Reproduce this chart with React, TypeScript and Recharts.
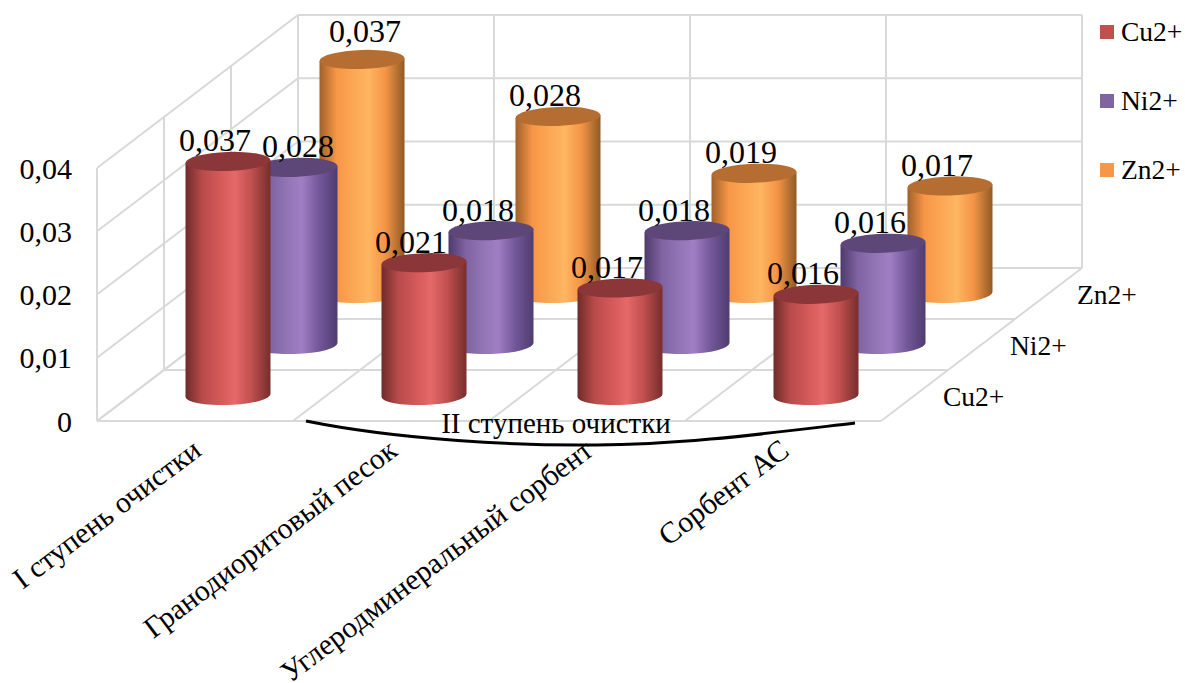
import React from "react";
import { BarChart, Bar, XAxis, YAxis, Legend, LabelList, Customized } from "recharts";

const categories = ["I ступень очистки", "Гранодиоритовый песок", "Углеродминеральный сорбент", "Сорбент АС"];
const cuValues = [0.037, 0.021, 0.017, 0.016];
const niValues = [0.028, 0.018, 0.018, 0.016];
const znValues = [0.037, 0.028, 0.019, 0.017];
const valueTicks = [0, 0.01, 0.02, 0.03, 0.04];
const seriesNames = ["Cu2+", "Ni2+", "Zn2+"];
const seriesKeys = ["cu", "ni", "zn"];
const seriesColors = ["#c0504d", "#8064a2", "#f79646"];
const topColors = ["#8b3638", "#5d4678", "#b66d31"];
const gradientStops = [
  ["#6f2b2a", "#b84b4a", "#d65a5a", "#e66868", "#bf4f4e", "#752e2d"],
  ["#4d3a6a", "#7f62a2", "#9376b6", "#a07ec3", "#73589a", "#4f3c70"],
  ["#a0602a", "#f79646", "#fca955", "#ffb560", "#f39445", "#8f5a25"],
];
const stopOffsets = ["0%", "20%", "42%", "58%", "78%", "100%"];

const rows = categories.map((category, i) => ({
  category,
  cu: cuValues[i],
  ni: niValues[i],
  zn: znValues[i],
}));

const FONT = "'Liberation Serif', 'Times New Roman', serif";
const GRID = "#d9d9d9";

// Box frame: the front edge of the floor, and how far one depth step moves a point.
const LEFT = 97;
const STEP = 196;
const TOP = 168;
const BOTTOM = 421;
const DEPTH_X = 67;
const DEPTH_Y = 51;
const COLS = categories.length;
const ROWS = seriesNames.length;
const UNIT = (BOTTOM - TOP) / 0.04;

// Where a cylinder of a depth row sits relative to the front face of the box.
const rowDx = (row: number) => DEPTH_X * (row + 0.5) - 1;
const rowDy = (row: number) => DEPTH_Y * (row + 0.5);

const Frame = () => {
  const right = LEFT + STEP * COLS;
  const backDx = DEPTH_X * ROWS;
  const backDy = DEPTH_Y * ROWS;
  const lines: number[][] = [];
  valueTicks.forEach((v) => {
    const y = BOTTOM - v * UNIT;
    lines.push([LEFT, y, LEFT + backDx, y - backDy]);
    lines.push([LEFT + backDx, y - backDy, right + backDx, y - backDy]);
  });
  for (let r = 0; r <= ROWS; r++) {
    const x = LEFT + DEPTH_X * r;
    const y = BOTTOM - DEPTH_Y * r;
    lines.push([x, y, right + DEPTH_X * r, y]);
    lines.push([x, y, x, TOP - DEPTH_Y * r]);
  }
  for (let c = 0; c <= COLS; c++) {
    const x = LEFT + STEP * c;
    lines.push([x, BOTTOM, x + backDx, BOTTOM - backDy]);
    lines.push([x + backDx, BOTTOM - backDy, x + backDx, TOP - backDy]);
  }
  return (
    <g>
      <defs>
        {gradientStops.map((stops, s) => (
          <linearGradient key={s} id={`cyl-${s}`} x1="0" y1="0" x2="1" y2="0">
            {stops.map((c, k) => (
              <stop key={k} offset={stopOffsets[k]} stopColor={c} />
            ))}
          </linearGradient>
        ))}
      </defs>
      {lines.map((l, i) => (
        <line key={i} x1={l[0]} y1={l[1]} x2={l[2]} y2={l[3]} stroke={GRID} strokeWidth={2} />
      ))}
      {seriesNames.map((name, r) => (
        <text
          key={name}
          x={right + 62 + DEPTH_X * r}
          y={BOTTOM - 15 - DEPTH_Y * r}
          fontFamily={FONT}
          fontSize={27.5}
          fill="#000"
        >
          {name}
        </text>
      ))}
      <path
        d="M306,421 C400,440 520,446 596,445 C680,445 770,433 855,423"
        fill="none"
        stroke="#000"
        strokeWidth={3}
      />
      <text x={556} y={433} textAnchor="middle" fontFamily={FONT} fontSize={29} fill="#000">
        II ступень очистки
      </text>
    </g>
  );
};

const Cylinder = (props: any) => {
  const { x, y, width, height, row } = props;
  const rx = width / 2;
  const ry = 9.5;
  const tilt = 1.5;
  const left = x + rowDx(row);
  const r = left + width;
  const top = y + rowDy(row) * -1;
  const base = top + height;
  return (
    <g>
      <path
        d={`M${left},${top + tilt} L${left},${base + tilt} A${rx},${ry} -2 0 0 ${r},${base - tilt} L${r},${top - tilt} Z`}
        fill={`url(#cyl-${row})`}
      />
      <ellipse
        cx={left + rx}
        cy={top}
        rx={rx}
        ry={ry}
        fill={topColors[row]}
        transform={`rotate(-2 ${left + rx} ${top})`}
      />
    </g>
  );
};

const valueText = (v: number) => v.toFixed(3).replace(".", ",");

const ValueLabel = (props: any) => {
  const { x, y, width, value, index, row } = props;
  const cx = x + width / 2 + rowDx(row);
  const nudge = index === 0 && row > 0 ? 3 : -13;
  const lift = index === 0 && row === 2 ? 17 : 10;
  return (
    <text
      x={cx + nudge}
      y={y - rowDy(row) - lift}
      textAnchor="middle"
      fontFamily={FONT}
      fontSize={32}
      fill="#000"
    >
      {valueText(Number(value))}
    </text>
  );
};

const CategoryTick = (props: any) => {
  const { x, payload } = props;
  return (
    <text
      transform={`translate(${x + 8},${BOTTOM + 33}) rotate(-37)`}
      textAnchor="end"
      fontFamily={FONT}
      fontSize={29.8}
      fill="#000"
    >
      {payload.value}
    </text>
  );
};

const LegendBox = () => (
  <div style={{ fontFamily: FONT, fontSize: 27.5, color: "#000" }}>
    {seriesNames.map((name, i) => (
      <div
        key={name}
        style={{ display: "flex", alignItems: "center", height: 32, marginBottom: i < 2 ? 37 : 0 }}
      >
        <span style={{ width: 14, height: 14, background: seriesColors[i], marginRight: 7 }} />
        <span>{name}</span>
      </div>
    ))}
  </div>
);

export default function App() {
  const backToFront = [2, 1, 0];
  return (
    <div style={{ position: "absolute", left: 0, top: 0 }}>
      <BarChart
        width={1185}
        height={683}
        data={rows}
        margin={{ top: TOP, right: 1185 - LEFT - STEP * COLS, bottom: 0, left: 0 }}
        barSize={85}
      >
        <Customized component={Frame} />
        {backToFront.map((s) => (
          <XAxis
            key={s}
            xAxisId={s}
            dataKey="category"
            interval={0}
            hide={s !== 0}
            height={683 - BOTTOM}
            axisLine={false}
            tickLine={false}
            tick={<CategoryTick />}
          />
        ))}
        <YAxis
          width={LEFT}
          domain={[0, 0.04]}
          ticks={valueTicks}
          axisLine={false}
          tickLine={false}
          tickSize={0}
          tickMargin={25}
          tickFormatter={(v: number) => String(v).replace(".", ",")}
          tick={{ fontFamily: FONT, fontSize: 30, fill: "#000" }}
        />
        {backToFront.map((s) => (
          <Bar
            key={s}
            xAxisId={s}
            dataKey={seriesKeys[s]}
            name={seriesNames[s]}
            fill={seriesColors[s]}
            isAnimationActive={false}
            shape={(p: any) => <Cylinder {...p} row={s} />}
          >
            <LabelList dataKey={seriesKeys[s]} content={(p: any) => <ValueLabel {...p} row={s} />} />
          </Bar>
        ))}
        <Legend
          layout="vertical"
          align="center"
          verticalAlign="middle"
          content={<LegendBox />}
          wrapperStyle={{ position: "absolute", left: 1100, top: 16, width: 85 }}
        />
      </BarChart>
    </div>
  );
}
